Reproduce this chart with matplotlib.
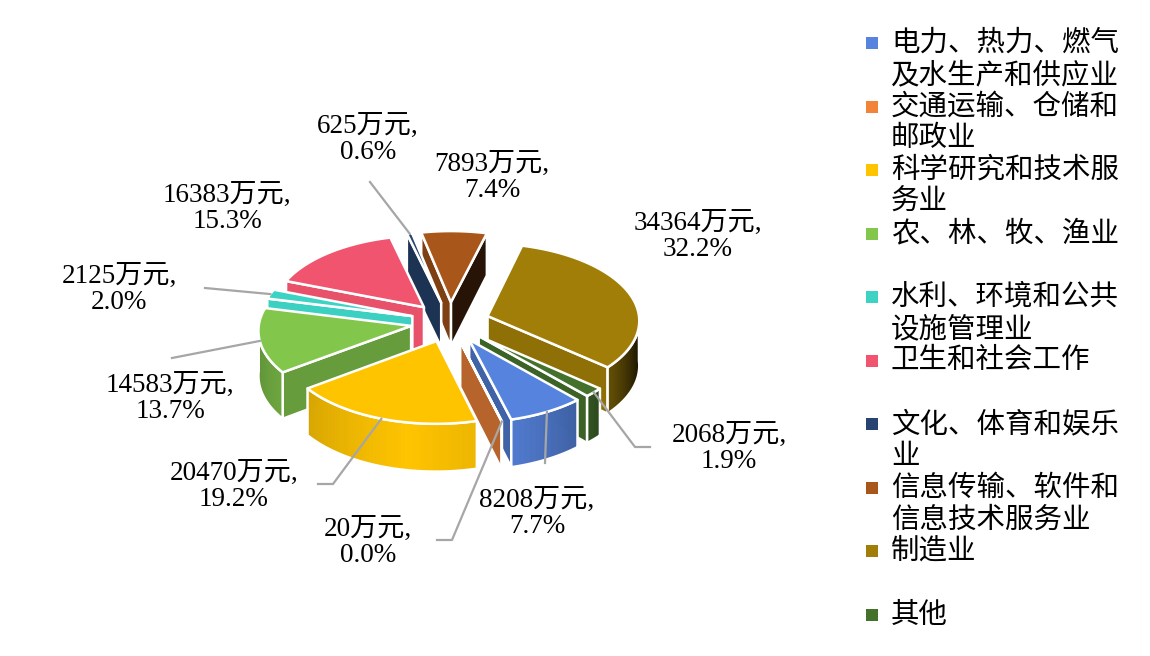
import numpy as np
import matplotlib
matplotlib.use("Agg")
import matplotlib.pyplot as plt
from matplotlib.patches import Polygon, Rectangle
from matplotlib.colors import to_rgb

plt.rcParams['font.family'] = ['Noto Sans CJK SC', 'DejaVu Sans']

# ---------------------------------------------------------------------------
# Data (legend order = clockwise slice order, starting at the blue slice)
# ---------------------------------------------------------------------------
categories = [
    "电力、热力、燃气\n及水生产和供应业",
    "交通运输、仓储和\n邮政业",
    "科学研究和技术服\n务业",
    "农、林、牧、渔业",
    "水利、环境和公共\n设施管理业",
    "卫生和社会工作",
    "文化、体育和娱乐\n业",
    "信息传输、软件和\n信息技术服务业",
    "制造业",
    "其他",
]
amounts = [8208, 20, 20470, 14583, 2125, 16383, 625, 7893, 34364, 2068]
colors = ["#5583DE", "#F2843A", "#FFC400", "#82C64C", "#3DD3C4",
          "#F0546E", "#27436F", "#A8561A", "#A07E08", "#44722C"]

# label centres (pixels) and leader-line start points near each label
label_xy = [(537, 513), (368, 542), (234, 486), (170, 398), (119, 289),
            (227, 208), (368, 139), (492, 177), (698, 236), (729, 448)]
leader_start = [[(545, 463)], [(437, 540), (452, 540)], [(318, 484), (333, 484)],
                [(172, 358)], [(205, 288)], [], [(370, 182)], [], [],
                [(650, 447), (635, 447)]]

# ---------------------------------------------------------------------------
# 3D pie geometry (screen pixels)
# ---------------------------------------------------------------------------
cx, cy = 450, 322
a, b = 152, 77          # ellipse semi-axes of the top face
h = 45                  # wall thickness
explode = 0.26
persp = 0.05
first_angle = -47.5     # start of first slice (deg, maths convention), clockwise

total = float(sum(amounts))
fracs = np.array(amounts) / total
starts = first_angle - 360 * np.concatenate([[0], np.cumsum(fracs)[:-1]])
ends = starts - 360 * fracs
lo, hi = ends, starts
mids = (lo + hi) / 2


def proj(ox, oy, r, th, z):
    t = np.radians(th)
    X = ox + r * np.cos(t)
    Y = oy + r * np.sin(t)
    s = 1 - persp * Y
    return cx + a * X * s, cy - b * Y * s + h * z * s


def shade(deg):
    d = (deg + 180) % 360 - 180
    return np.interp(d, [-180, -142, -100, -73, -45, -20, 0],
                     [0.70, 0.85, 1.0, 0.92, 0.72, 0.30, 0.05])


def darker(col, f):
    return tuple(np.clip(np.array(to_rgb(col)) * f, 0, 1))


fig = plt.figure(figsize=(11.5, 6.56), dpi=100)
ax = fig.add_axes([0, 0, 1, 1])
ax.set_xlim(0, 1150)
ax.set_ylim(656, 0)
ax.axis("off")

order = np.argsort(-np.sin(np.radians(mids)))
z = 1
for i in order:
    col = colors[i]
    ox = explode * np.cos(np.radians(mids[i]))
    oy = explode * np.sin(np.radians(mids[i]))

    # radial walls
    for ang, vis, nrm in [(lo[i], np.cos(np.radians(lo[i])) > 0, lo[i] - 90),
                          (hi[i], np.cos(np.radians(hi[i])) < 0, hi[i] + 90)]:
        if vis:
            pts = [proj(ox, oy, 0, ang, 0), proj(ox, oy, 1, ang, 0),
                   proj(ox, oy, 1, ang, 1), proj(ox, oy, 0, ang, 1)]
            ax.add_patch(Polygon(pts, closed=True, fc=darker(col, shade(nrm)),
                                 ec="white", lw=1.8, joinstyle="round", zorder=z))

    # outer wall (front-facing part only), shaded strips
    for k in (-1, 0, 1):
        s0 = max(lo[i], -180 + 360 * k)
        s1 = min(hi[i], 360 * k)
        if s1 - s0 > 0.05:
            th = np.linspace(s0, s1, 60)
            for j in range(len(th) - 1):
                q = [proj(ox, oy, 1, th[j], 0), proj(ox, oy, 1, th[j + 1], 0),
                     proj(ox, oy, 1, th[j + 1], 1), proj(ox, oy, 1, th[j], 1)]
                c = darker(col, shade((th[j] + th[j + 1]) / 2))
                ax.add_patch(Polygon(q, closed=True, fc=c, ec=c, lw=0.6, zorder=z))
            xt, yt = proj(ox, oy, 1, th, 0)
            xb, yb = proj(ox, oy, 1, th[::-1], 1)
            outline = np.column_stack([np.r_[xt, xb], np.r_[yt, yb]])
            ax.add_patch(Polygon(outline, closed=True, fill=False, ec="white",
                                 lw=1.8, joinstyle="round", zorder=z))

    # top face
    th = np.linspace(lo[i], hi[i], 80)
    xt, yt = proj(ox, oy, 1, th, 0)
    vx, vy = proj(ox, oy, 0, mids[i], 0)
    top = np.column_stack([np.r_[vx, xt], np.r_[vy, yt]])
    ax.add_patch(Polygon(top, closed=True, fc=col, ec="white", lw=1.8,
                         joinstyle="round", zorder=z))
    z += 1

# ---------------------------------------------------------------------------
# Data labels and leader lines
# ---------------------------------------------------------------------------
for i, v in enumerate(amounts):
    pct = 100 * v / total
    tx, ty = label_xy[i]
    ax.text(tx, ty, f"{v}万元,\n{pct:.1f}%", ha="center", va="center",
            fontsize=19.5, linespacing=1.05, color="black", zorder=50,
            family=["Liberation Serif", "Noto Sans CJK SC"])
    if leader_start[i]:
        ox = explode * np.cos(np.radians(mids[i]))
        oy = explode * np.sin(np.radians(mids[i]))
        ex, ey = proj(ox, oy, 1, mids[i], 0)
        xs = [p[0] for p in leader_start[i]] + [ex]
        ys = [p[1] for p in leader_start[i]] + [ey]
        ax.plot(xs, ys, color="#A6A6A6", lw=1.6, zorder=40)

# ---------------------------------------------------------------------------
# Legend
# ---------------------------------------------------------------------------
for i, name in enumerate(categories):
    y0 = 43 + i * 63.5
    ax.add_patch(Rectangle((866, y0 - 6), 12, 12, fc=colors[i], ec="none", zorder=50))
    for j, line in enumerate(name.split("\n")):
        ax.text(891, y0 + j * 32, line, ha="left", va="center",
                fontsize=20.5, color="black", zorder=50)

fig.savefig("out.png", dpi=100)
